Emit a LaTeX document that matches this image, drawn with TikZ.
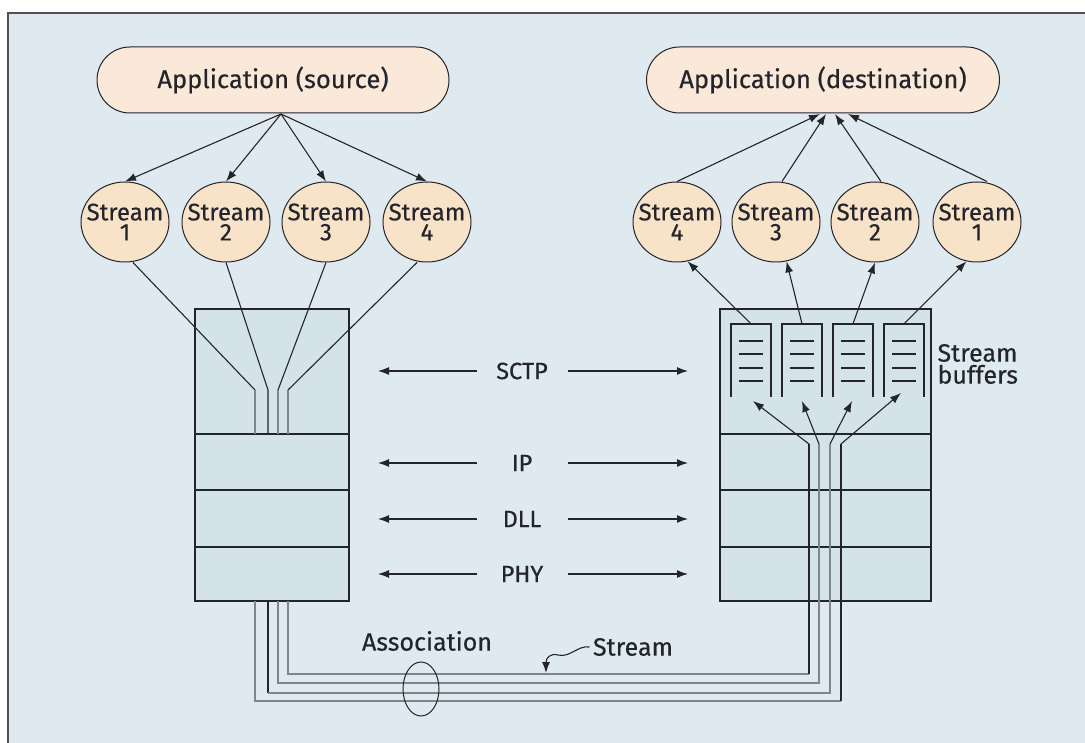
\documentclass[tikz,border=0pt]{standalone}
\usepackage{fontspec}
\setmainfont{Fira Sans}[FakeBold=0.4]
\usetikzlibrary{arrows.meta,shapes.geometric}
\definecolor{bg}{HTML}{DEEAEF}
\definecolor{pill}{HTML}{FAE8D8}
\definecolor{circ}{HTML}{F8E2C8}
\definecolor{boxc}{HTML}{D3E3E9}
\definecolor{ink}{HTML}{24242C}
\definecolor{wgray}{HTML}{7E868A}
\begin{document}
\begin{tikzpicture}[x=1pt,y=-1pt,
  every node/.style={text=ink},
  pillstyle/.style={draw=ink, line width=1pt, fill=pill, rounded corners=33pt, minimum width=352pt, minimum height=66pt, font=\fontsize{25.5}{26}\selectfont},
  strm/.style={ellipse, draw=ink, line width=1pt, fill=circ, minimum width=88pt, minimum height=80pt, inner sep=0pt},
  strmtext/.style={inner sep=0pt, align=center, font=\fontsize{24}{20}\selectfont},
  cell/.style={draw=ink, line width=1.2pt, fill=boxc, inner sep=0pt},
  buf/.style={inner sep=0pt, minimum width=40pt, minimum height=73pt},
  lab/.style={font=\fontsize{25}{22}\selectfont},
  arr/.style={-{Latex[length=11pt,width=8pt]}, line width=1.1pt, draw=ink},
  wireg/.style={line width=1.4pt, draw=wgray},
  wireb/.style={line width=1.3pt, draw=ink},
  thinl/.style={line width=1.1pt, draw=ink},
]
\useasboundingbox (0,0) rectangle (1085,743);
\fill[white] (0,0) rectangle (1085,743);
\begin{scope}
\clip (0,0) rectangle (1085,743);
\draw[fill=bg, line width=1.6pt, draw=ink!80] (8,13) rectangle (1110,770);
\end{scope}

% applications
\node[pillstyle] (src) at (273,80) {Application (source)};
\node[pillstyle, minimum width=353pt] (dst) at (823,80) {Application (destination)};

% streams (shape and its text)
\foreach \n/\x/\t in {s1/125/1, s2/226/2, s3/326/3, s4/427/4, d4/677/4, d3/776/3, d2/875/2, d1/977/1}{
  \node[strm] (\n) at (\x,222) {};
  \node[strmtext] (\n t) at (\x,222) {Stream\\\t};
}

% fan-out arrows
\coordinate (fan) at (281,114);
\foreach \s in {s1,s2,s3,s4} \draw[arr] (fan) -- (\s.north);
% fan-in arrows
\coordinate (in4) at (820,114);
\coordinate (in3) at (826,114);
\coordinate (in2) at (835,114);
\coordinate (in1) at (848,114);
\draw[arr] (d4.north) -- (in4);
\draw[arr] ([xshift=6pt]d3.north) -- (in3);
\draw[arr] ([xshift=6pt]d2.north) -- (in2);
\draw[arr] ([xshift=10pt]d1.north) -- (in1);

% left stack
\node[cell, minimum width=154pt, minimum height=125pt] (lsctp) at (272,371.5) {};
\node[cell, minimum width=154pt, minimum height=56pt] (lip) at (272,462) {};
\node[cell, minimum width=154pt, minimum height=57pt] (ldll) at (272,518.5) {};
\node[cell, minimum width=154pt, minimum height=54pt] (lphy) at (272,574) {};
% right stack
\node[cell, minimum width=211pt, minimum height=125pt] (rsctp) at (825.5,371.5) {};
\node[cell, minimum width=211pt, minimum height=56pt] (rip) at (825.5,462) {};
\node[cell, minimum width=211pt, minimum height=57pt] (rdll) at (825.5,518.5) {};
\node[cell, minimum width=211pt, minimum height=54pt] (rphy) at (825.5,574) {};

% layer labels and arrows
\foreach \n/\t/\y in {sctp/SCTP/371, ip/IP/463, dll/DLL/519, phy/PHY/574}{
  \node[lab, font=\fontsize{23.5}{22}\selectfont] (\n) at (522,\y) {\t};
  \draw[arr] (477,\y) -- (378,\y);
  \draw[arr] (568,\y) -- (688,\y);
}

% streams into left SCTP
\draw[thinl] ([xshift=8pt]s1.south) -- (255,390);
\draw[wireg] (255,390) -- (255,434);
\draw[thinl] (s2.south) -- (268,390) -- (268,434);
\draw[thinl] (s3.south) -- (278,390);
\draw[wireg] (278,390) -- (278,434);
\draw[thinl] ([xshift=-10pt]s4.south) -- (288,390);
\draw[wireg] (288,390) -- (288,434);

% stream buffers
\foreach \b/\x in {b1/751, b2/802, b3/853, b4/904}{
  \node[buf] (\b) at (\x,360.5) {};
  \draw[line width=1.5pt, draw=ink] (\b.south west) -- (\b.north west) -- (\b.north east) -- (\b.south east);
  \foreach \yy in {341,354,368,381} \draw[line width=1.3pt, draw=ink] (\x-12,\yy) -- (\x+12,\yy);
}
\node[lab, align=left, anchor=west] (sbuf) at (934,364) {Stream\\buffers};

% buffers to destination streams
\draw[arr] (b1.north) -- (d4.-75);
\draw[arr] (b2.north) -- (d3.-75);
\draw[arr] (b3.north) -- (d2.south);
\draw[arr] (b4.north) -- (d1.-105);

% association wires
\draw[wireg] (255,601) -- (255,701) -- (841,701);
\draw[wireb] (841,701) -- (841,444);
\draw[arr] (841,444) -- (901,393);

\draw[wireb] (268,601) -- (268,693);
\draw[wireg] (268,693) -- (830,693) -- (830,444);
\draw[arr] (830,444) -- (852,401);

\draw[wireg] (278,601) -- (278,683) -- (819,683) -- (819,444);
\draw[arr] (819,444) -- (802,401);

\draw[wireg] (288,601) -- (288,674) -- (809,674);
\draw[wireb] (809,674) -- (809,444);
\draw[arr] (809,444) -- (753,401);

% association and stream labels
\node[ellipse, draw=ink, line width=1pt, minimum width=36pt, minimum height=54pt, inner sep=0pt] (assoc) at (421,689) {};
\node[lab] (assoclab) at (427,641) {Association};
\node[lab] (streamlab) at (633,647) {Stream};
\draw[arr] (streamlab.west) .. controls (578,645) and (570,658) .. (558,655) .. controls (550,653) and (546,658) .. (546,673);
\end{tikzpicture}
\end{document}
